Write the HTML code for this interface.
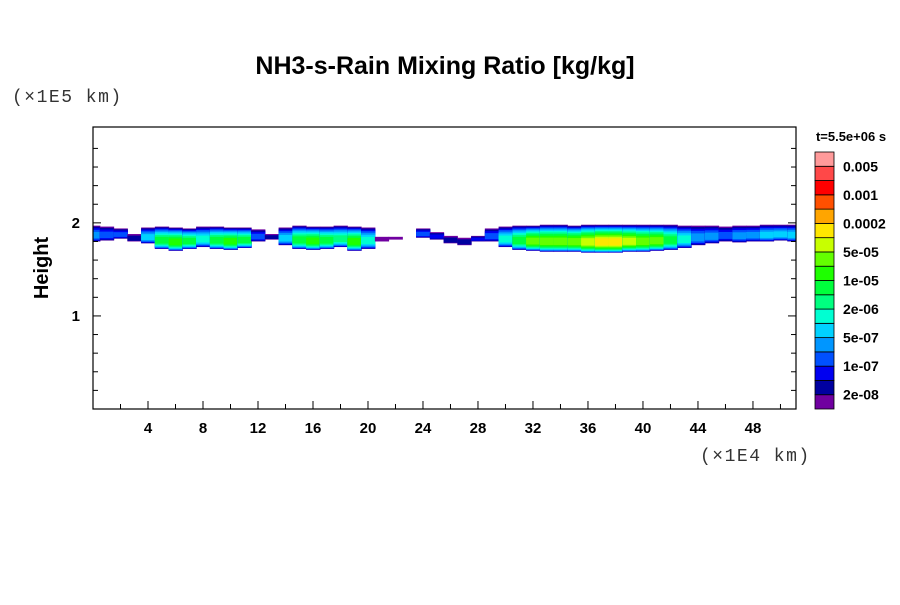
<!DOCTYPE html>
<html><head><meta charset="utf-8"><style>
body{margin:0;background:#fff;}
svg text{font-family:"Liberation Sans",sans-serif;}
</style></head><body>
<svg id="chart" width="900" height="600" xmlns="http://www.w3.org/2000/svg">
<rect width="900" height="600" fill="#fff"/>
<text x="445" y="74" font-size="25" font-weight="bold" text-anchor="middle">NH3-s-Rain Mixing Ratio [kg/kg]</text>
<text x="12" y="102" font-size="18" fill="#333" letter-spacing="1.5" style="font-family:'Liberation Mono',monospace">(×1E5 km)</text>
<text x="700" y="461" font-size="18" fill="#333" letter-spacing="1.5" style="font-family:'Liberation Mono',monospace">(×1E4 km)</text>
<text transform="translate(48,268) rotate(-90)" font-size="20" font-weight="bold" text-anchor="middle">Height</text>
<text x="851" y="141" font-size="13" font-weight="bold" text-anchor="middle">t=5.5e+06 s</text>
<g id="field"></g>
<g id="axes"></g>
<g id="cbar"></g>
</svg>
<script>
const xCols=[0,1,2,3,4,5,6,7,8,9,10,11,12,13,14,15,16,17,18,19,20,21,22,23,24,25,26,27,28,29,30,31,32,33,34,35,36,37,38,39,40,41,42,43,44,45,46,47,48,49,50,51];
const peakLevel=[4,3,3,1,5,8,9,8,6,8,9,8,3,1,5,8,9,8,7,9,6,0,0,-1,3,2,1,1,2,3,6,8,10,10,10,10,11,12,12,11,10,10,8,6,4,4,3,4,4,5,5,5];
const bandTop=[1.97,1.96,1.94,1.88,1.95,1.96,1.95,1.94,1.96,1.96,1.95,1.95,1.93,1.88,1.95,1.97,1.96,1.96,1.97,1.96,1.95,1.85,1.85,1.9,1.94,1.9,1.86,1.84,1.86,1.94,1.96,1.97,1.97,1.98,1.98,1.97,1.98,1.98,1.98,1.98,1.98,1.98,1.98,1.97,1.97,1.97,1.96,1.97,1.97,1.98,1.98,1.98];
const bandBottom=[1.8,1.81,1.83,1.8,1.78,1.72,1.7,1.72,1.74,1.72,1.71,1.73,1.8,1.82,1.76,1.72,1.71,1.72,1.74,1.7,1.72,1.8,1.82,1.86,1.84,1.82,1.78,1.76,1.8,1.8,1.74,1.71,1.7,1.69,1.69,1.69,1.68,1.68,1.68,1.69,1.69,1.7,1.71,1.73,1.76,1.78,1.8,1.79,1.8,1.8,1.81,1.8];
const levelColors=["#7000a0","#0000a0","#0000f0","#0050ff","#0096ff","#00d2ff","#00ffd2","#00ff80","#00ff3c","#1eff00","#64ff00","#c8ff00","#ffe600","#ffa500","#ff5000","#ff0000","#ff4848","#ff9a9a"];
const cbarLabels=["2e-08","1e-07","5e-07","2e-06","1e-05","5e-05","0.0002","0.001","0.005"];
const xTicks=[4,8,12,16,20,24,28,32,36,40,44,48];
const yTicks=[1,2];
const X0=93,X1=796,Y0=409,Y1=127,XMAX=51.13,YMAX=3.03;
const sx=v=>X0+v/XMAX*(X1-X0), sy=v=>Y0-v/YMAX*(Y0-Y1);
const NS="http://www.w3.org/2000/svg";
function mk(t,a,p){const e=document.createElementNS(NS,t);for(const k in a)e.setAttribute(k,a[k]);p.appendChild(e);return e;}
const field=document.getElementById('field');
xCols.forEach((x,i)=>{
  const pk=peakLevel[i]; if(pk<0)return;
  const c=(bandTop[i]+bandBottom[i])/2,h=(bandTop[i]-bandBottom[i])/2;
  const x0=Math.max(0,x-0.5),x1=Math.min(XMAX,x+0.5);
  for(let k=0;k<=pk;k++){
    const q=k/(pk+1);
    const f=1-0.55*q*q-0.3*q;
    const cc=c-h*0.25*q;
    const top=Math.min(cc+h*f,bandTop[i]),bot=Math.max(cc-h*f,bandBottom[i]);
    const r=mk('rect',{x:sx(x0),y:sy(top),width:sx(x1)-sx(x0)+0.5,height:Math.max(1,sy(bot)-sy(top)),fill:levelColors[k]},field);
    
    
  }
});
const ax=document.getElementById('axes');
mk('rect',{x:X0,y:Y1,width:X1-X0,height:Y0-Y1,fill:'none',stroke:'#000','stroke-width':1.2},ax);
for(let v=2;v<XMAX;v+=2){const L=v%4==0?8:5;mk('line',{x1:sx(v),x2:sx(v),y1:Y0,y2:Y0-L,stroke:'#000'},ax);}
for(let j=1;j<15;j++){const v=j*0.2;const L=(j%5==0)?8:5;
  mk('line',{x1:X0,x2:X0+L,y1:sy(v),y2:sy(v),stroke:'#000'},ax);
  mk('line',{x1:X1,x2:X1-L,y1:sy(v),y2:sy(v),stroke:'#000'},ax);}
xTicks.forEach(v=>{const t=mk('text',{x:sx(v),y:433,'font-size':15,'font-weight':'bold','text-anchor':'middle'},ax);t.textContent=v;
  
  });
yTicks.forEach(v=>{const t=mk('text',{x:80,y:sy(v)+5,'font-size':15,'font-weight':'bold','text-anchor':'end'},ax);t.textContent=v;
  
  });
const cb=document.getElementById('cbar');
const CB0=152,CB1=409,n=levelColors.length,bh=(CB1-CB0)/n;
levelColors.forEach((col,k)=>{
  const r=mk('rect',{x:815,y:CB1-(k+1)*bh,width:19,height:bh,fill:col,stroke:'#000','stroke-width':0.8},cb);
  
  
});
cbarLabels.forEach((s,j)=>{
  const y=CB1-(2*j+1)*bh;
  const t=mk('text',{x:843,y:y+5,'font-size':14,'font-weight':'bold'},cb);t.textContent=s;
  
  
});
</script>
</body></html>
